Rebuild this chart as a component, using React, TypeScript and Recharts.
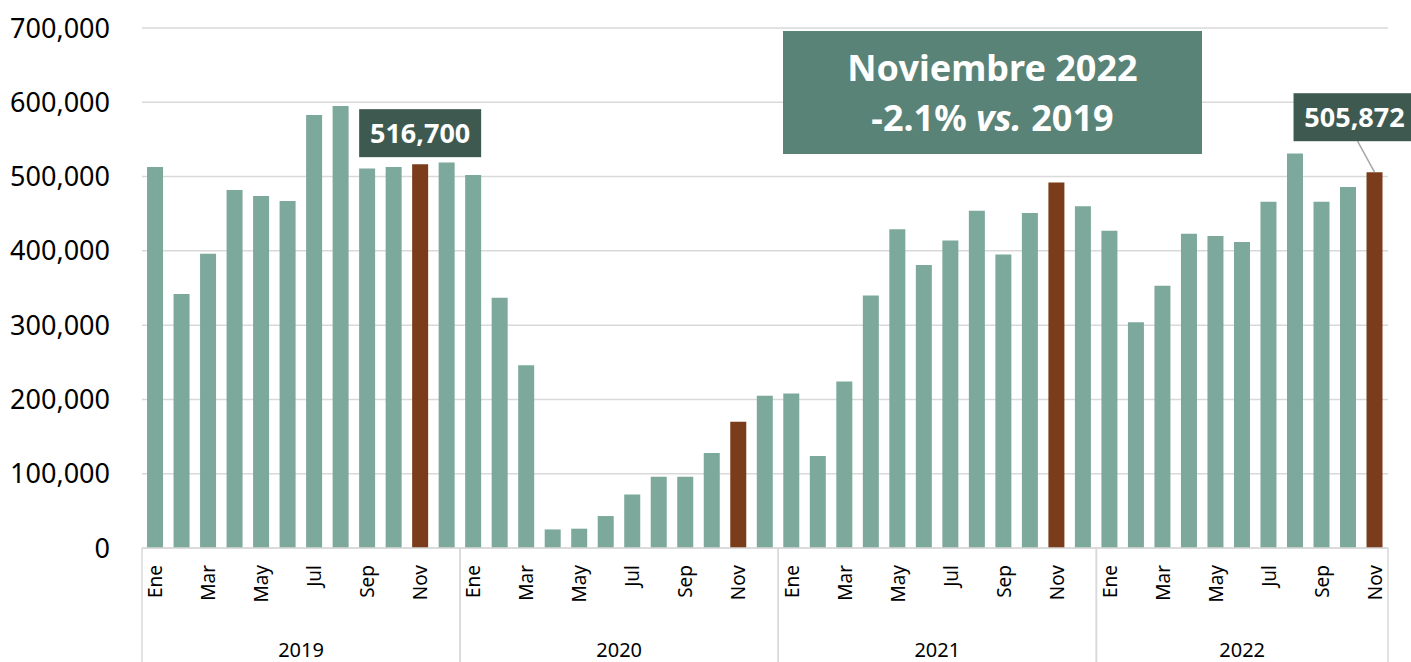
import React from 'react';
import {
    BarChart,
    Bar,
    XAxis,
    YAxis,
    CartesianGrid,
    Cell,
    LabelList,
} from 'recharts';

const years = ['2019', '2020', '2021', '2022'];
const months = ['Ene', 'Feb', 'Mar', 'Abr', 'May', 'Jun', 'Jul', 'Ago', 'Sep', 'Oct', 'Nov', 'Dic'];

const values2019 = [513000, 342000, 396000, 482000, 474000, 467000, 583000, 595000, 511000, 513000, 516700, 519000];
const values2020 = [502000, 337000, 246000, 25000, 26000, 43000, 72000, 96000, 96000, 128000, 170000, 205000];
const values2021 = [208000, 124000, 224000, 340000, 429000, 381000, 414000, 454000, 395000, 451000, 492000, 460000];
const values2022 = [427000, 304000, 353000, 423000, 420000, 412000, 466000, 531000, 466000, 486000, 505872];

const highlightMonth = 'Nov';
const badgeKeys = ['2019-Nov', '2022-Nov'];
const yTicks = [0, 100000, 200000, 300000, 400000, 500000, 600000, 700000];

const titleLine1 = 'Noviembre 2022';
const titleChange = '-2.1%';
const titleRest = ' 2019';

const CHART_W = 1411;
const CHART_H = 662;
const MARGIN = { top: 28, right: 23, left: 0, bottom: 0 };
const Y_AXIS_W = 142;
const X_AXIS_H = 114;

const TEAL = '#7da89c';
const BROWN = '#7a3c1a';
const BADGE = '#3e5a50';
const TITLE_BG = '#5a8377';
const GRID = '#d9d9d9';
const FONT = '"Noto Sans", "Open Sans", sans-serif';

const seriesByYear = [values2019, values2020, values2021, values2022];

const rows = years.flatMap((year, yi) =>
    seriesByYear[yi].map((value, mi) => ({
        key: `${year}-${months[mi]}`,
        year,
        month: months[mi],
        value,
    }))
);

const band = (CHART_W - MARGIN.left - MARGIN.right - Y_AXIS_W) / rows.length;

function MonthTick(props: any) {
    const { x, y, payload } = props;
    const row = rows[payload.index];
    if (!row) return null;
    const m = months.indexOf(row.month);
    const yearRows = rows.filter((r) => r.year === row.year);
    const first = yearRows[0].key === row.key;
    const last = yearRows[yearRows.length - 1].key === row.key;
    return (
        <g>
            {m % 2 === 0 && (
                <text
                    transform={`translate(${x + 7},${y + 17}) rotate(-90)`}
                    textAnchor="end"
                    fontSize={19}
                    fontFamily={FONT}
                    fill="#000"
                >
                    {row.month}
                </text>
            )}
            {first && (
                <line x1={x - band / 2} x2={x - band / 2} y1={y} y2={y + X_AXIS_H} stroke={GRID} strokeWidth={1.5} />
            )}
            {last && (
                <line x1={x + band / 2} x2={x + band / 2} y1={y} y2={y + X_AXIS_H} stroke={GRID} strokeWidth={1.5} />
            )}
            {first && (
                <text
                    x={x - band / 2 + (yearRows.length * band) / 2}
                    y={y + 109}
                    textAnchor="middle"
                    fontSize={20}
                    fontFamily={FONT}
                    fill="#000"
                >
                    {row.year}
                </text>
            )}
        </g>
    );
}

function ValueBadge(props: any) {
    const { x, y, width, value, index } = props;
    const row = rows[index];
    if (!row || !badgeKeys.includes(row.key)) return null;
    const cx = x + width / 2;
    const isLast = index === rows.length - 1;
    const w = 122;
    const h = 48;
    const bx = isLast ? cx - 20 : cx;
    const bottom = isLast ? y - 31 : y - 7;
    return (
        <g>
            {isLast && <line x1={bx + 3} y1={bottom} x2={cx} y2={y} stroke="#a6a6a6" strokeWidth={1.5} />}
            <rect x={bx - w / 2} y={bottom - h} width={w} height={h} fill={BADGE} />
            <text
                x={bx}
                y={bottom - h / 2}
                dy="0.36em"
                textAnchor="middle"
                fontSize={27}
                fontWeight={700}
                fontFamily={FONT}
                fill="#fff"
            >
                {Number(value).toLocaleString('en-US')}
            </text>
        </g>
    );
}

export default function App() {
    return (
        <div style={{ position: 'relative', width: CHART_W, height: CHART_H, background: '#fff' }}>
            <style>{'body{margin:0}'}</style>
            <BarChart width={CHART_W} height={CHART_H} data={rows} margin={MARGIN} barCategoryGap="19%">
                <CartesianGrid vertical={false} stroke={GRID} strokeWidth={1.5} />
                <XAxis
                    dataKey="key"
                    interval={0}
                    height={X_AXIS_H}
                    tickLine={false}
                    tickSize={0}
                    tickMargin={0}
                    axisLine={{ stroke: GRID, strokeWidth: 1.5 }}
                    tick={<MonthTick />}
                />
                <YAxis
                    width={Y_AXIS_W}
                    domain={[0, 700000]}
                    ticks={yTicks}
                    axisLine={false}
                    tickLine={false}
                    tickSize={0}
                    tickMargin={32}
                    tickFormatter={(v) => Number(v).toLocaleString('en-US')}
                    tick={{ fontSize: 27, fontFamily: FONT, fill: '#000' }}
                />
                <Bar dataKey="value" isAnimationActive={false}>
                    {rows.map((r) => (
                        <Cell key={r.key} fill={r.month === highlightMonth ? BROWN : TEAL} />
                    ))}
                    <LabelList dataKey="value" content={<ValueBadge />} />
                </Bar>
            </BarChart>
            <div
                style={{
                    position: 'absolute',
                    left: 783,
                    top: 31,
                    width: 419,
                    height: 123,
                    background: TITLE_BG,
                    color: '#fff',
                    fontFamily: FONT,
                    fontWeight: 700,
                    fontSize: 36,
                    lineHeight: '50px',
                    textAlign: 'center',
                    paddingTop: 12,
                    boxSizing: 'border-box',
                }}
            >
                <div>{titleLine1}</div>
                <div>
                    {titleChange} <i>vs.</i>
                    {titleRest}
                </div>
            </div>
        </div>
    );
}
